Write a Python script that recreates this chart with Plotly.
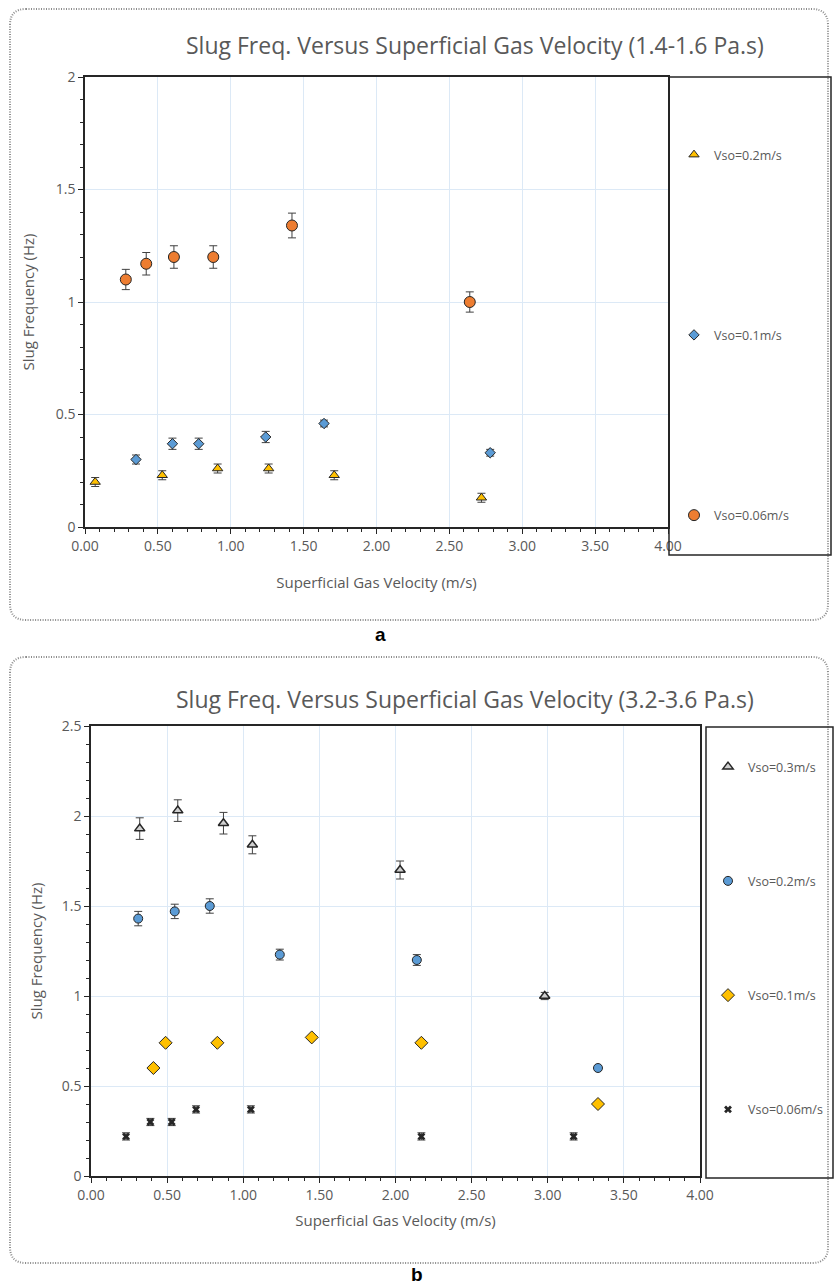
import plotly.graph_objects as go

W, H = 838, 1286

# ---------------- Panel a data (1.4-1.6 Pa.s) ----------------
a_names = ["Vso=0.2m/s", "Vso=0.1m/s", "Vso=0.06m/s"]
a_tri_x = [0.07, 0.53, 0.91, 1.26, 1.71, 2.72]
a_tri_y = [0.20, 0.23, 0.26, 0.26, 0.23, 0.13]
a_tri_err = [0.02, 0.02, 0.02, 0.02, 0.02, 0.02]
a_dia_x = [0.35, 0.60, 0.78, 1.24, 1.64, 2.78]
a_dia_y = [0.30, 0.37, 0.37, 0.40, 0.46, 0.33]
a_dia_err = [0.02, 0.025, 0.025, 0.025, 0.015, 0.015]
a_cir_x = [0.28, 0.42, 0.61, 0.88, 1.42, 2.64]
a_cir_y = [1.10, 1.17, 1.20, 1.20, 1.34, 1.00]
a_cir_err = [0.045, 0.05, 0.05, 0.05, 0.055, 0.045]

# ---------------- Panel b data (3.2-3.6 Pa.s) ----------------
b_names = ["Vso=0.3m/s", "Vso=0.2m/s", "Vso=0.1m/s", "Vso=0.06m/s"]
b_tri_x = [0.32, 0.57, 0.87, 1.06, 2.03, 2.98]
b_tri_y = [1.93, 2.03, 1.96, 1.84, 1.70, 1.00]
b_tri_err = [0.06, 0.06, 0.06, 0.05, 0.05, 0.02]
b_cir_x = [0.31, 0.55, 0.78, 1.24, 2.14, 3.33]
b_cir_y = [1.43, 1.47, 1.50, 1.23, 1.20, 0.60]
b_cir_err = [0.04, 0.04, 0.04, 0.03, 0.03, 0.0]
b_dia_x = [0.41, 0.49, 0.83, 1.45, 2.17, 3.33]
b_dia_y = [0.60, 0.74, 0.74, 0.77, 0.74, 0.40]
b_dia_err = [0.0, 0.0, 0.0, 0.0, 0.0, 0.0]
b_x_x = [0.23, 0.39, 0.53, 0.69, 1.05, 2.17, 3.17]
b_x_y = [0.22, 0.30, 0.30, 0.37, 0.37, 0.22, 0.22]
b_x_err = [0.02, 0.02, 0.02, 0.02, 0.02, 0.02, 0.02]

titles = ["Slug Freq. Versus Superficial Gas Velocity (1.4-1.6 Pa.s)",
          "Slug Freq. Versus Superficial Gas Velocity (3.2-3.6 Pa.s)"]

FONT = "Open Sans"
GRAY = "#595959"
EDGE = "#262626"


def px(x):
    return x / W


def py(y):
    return 1 - y / H


fig = go.Figure()


def add(xs, ys, errs, name, sym, fill, size, xa, ya, leg, lw=1):
    fig.add_trace(go.Scatter(
        x=xs, y=ys, mode="markers", name=name,
        xaxis=xa, yaxis=ya, legend=leg, legendgroup=leg + name,
        marker=dict(symbol=sym, size=size, color=fill,
                    line=dict(color=EDGE, width=lw)),
        error_y=dict(type="data", array=errs, visible=True,
                     color="#404040", thickness=1, width=4),
    ))


add(a_tri_x, a_tri_y, a_tri_err, a_names[0], "triangle-up", "#ffc000", 9, "x", "y", "legend")
add(a_dia_x, a_dia_y, a_dia_err, a_names[1], "diamond", "#5b9bd5", 8, "x", "y", "legend")
add(a_cir_x, a_cir_y, a_cir_err, a_names[2], "circle", "#ed7d31", 11, "x", "y", "legend")

add(b_tri_x, b_tri_y, b_tri_err, b_names[0], "triangle-up", "#d0d0d0", 9, "x2", "y2", "legend2", 1.5)
add(b_cir_x, b_cir_y, b_cir_err, b_names[1], "circle", "#5b9bd5", 9, "x2", "y2", "legend2")
add(b_dia_x, b_dia_y, b_dia_err, b_names[2], "diamond", "#ffc000", 10, "x2", "y2", "legend2")
add(b_x_x, b_x_y, b_x_err, b_names[3], "x", "#262626", 7, "x2", "y2", "legend2", 0)

tickfont = dict(family=FONT, size=14, color=GRAY)
titlefont = dict(family=FONT, size=15, color=GRAY)

common_x = dict(range=[0, 4], dtick=0.5, tickformat=".2f", showgrid=True,
                gridcolor="#dce9f6", gridwidth=1, zeroline=False,
                showline=True, linecolor=EDGE, linewidth=1.5, mirror=True,
                ticks="outside", ticklen=5, tickcolor=EDGE, automargin=False,
                minor=dict(dtick=0.1, ticks="outside", ticklen=3, tickcolor=EDGE, showgrid=False),
                tickfont=tickfont)
common_y = dict(dtick=0.5, showgrid=True, gridcolor="#dce9f6", gridwidth=1,
                zeroline=False, showline=True, linecolor=EDGE, linewidth=1.5,
                mirror=True, ticks="outside", ticklen=5, tickcolor=EDGE, automargin=False,
                minor=dict(dtick=0.1, ticks="outside", ticklen=3, tickcolor=EDGE, showgrid=False),
                tickfont=tickfont)

fig.update_layout(
    width=W, height=H, autosize=False,
    margin=dict(l=0, r=0, t=0, b=0, pad=0, autoexpand=False),
    paper_bgcolor="white", plot_bgcolor="white",
    xaxis=dict(common_x, domain=[px(85), px(668)], anchor="y",
               title=dict(text="Superficial Gas Velocity (m/s)", font=titlefont, standoff=24)),
    yaxis=dict(common_y, domain=[py(527), py(77)], range=[0, 2], anchor="x",
               title=dict(text="Slug Frequency (Hz)", font=titlefont, standoff=18)),
    xaxis2=dict(common_x, domain=[px(91), px(700)], anchor="y2",
                title=dict(text="Superficial Gas Velocity (m/s)", font=titlefont, standoff=13)),
    yaxis2=dict(common_y, domain=[py(1176), py(726)], range=[0, 2.5], anchor="x2",
                title=dict(text="Slug Frequency (Hz)", font=titlefont, standoff=16)),
    legend=dict(x=px(674), y=py(140), xanchor="left", yanchor="top",
                bgcolor="rgba(0,0,0,0)", traceorder="grouped", tracegroupgap=161,
                font=dict(family=FONT, size=12.5, color=GRAY), itemwidth=30),
    legend2=dict(x=px(708), y=py(752), xanchor="left", yanchor="top",
                 bgcolor="rgba(0,0,0,0)", traceorder="grouped", tracegroupgap=95,
                 font=dict(family=FONT, size=12.5, color=GRAY), itemwidth=30),
    showlegend=True,
)


def rounded(x0, y0, x1, y1, r):
    rx, ry = r / W, r / H
    X0, X1 = px(x0), px(x1)
    Y0, Y1 = py(y0), py(y1)  # Y0 top, Y1 bottom
    return (f"M {X0+rx},{Y0} L {X1-rx},{Y0} Q {X1},{Y0} {X1},{Y0-ry} "
            f"L {X1},{Y1+ry} Q {X1},{Y1} {X1-rx},{Y1} "
            f"L {X0+rx},{Y1} Q {X0},{Y1} {X0},{Y1+ry} "
            f"L {X0},{Y0-ry} Q {X0},{Y0} {X0+rx},{Y0} Z")


frame_line = dict(color="#8c8c8c", width=2, dash="1px,1.5px")
shapes = [
    dict(type="path", xref="paper", yref="paper", path=rounded(10, 9, 828, 620, 16),
         line=frame_line, layer="below"),
    dict(type="path", xref="paper", yref="paper", path=rounded(10, 657, 828, 1263, 16),
         line=frame_line, layer="below"),
    dict(type="rect", xref="paper", yref="paper", x0=px(669), x1=px(831), y0=py(555), y1=py(77),
         line=dict(color=EDGE, width=1.5)),
    dict(type="rect", xref="paper", yref="paper", x0=px(706), x1=px(833), y0=py(1178), y1=py(727),
         line=dict(color=EDGE, width=1.5)),
]

annotations = [
    dict(text=titles[0], x=px(475), y=py(45), xref="paper", yref="paper",
         xanchor="center", yanchor="middle",
         showarrow=False, font=dict(family=FONT, size=23, color=GRAY)),
    dict(text=titles[1], x=px(465), y=py(699), xref="paper", yref="paper",
         xanchor="center", yanchor="middle",
         showarrow=False, font=dict(family=FONT, size=23, color=GRAY)),
    dict(text="<b>a</b>", x=px(380), y=py(634), xref="paper", yref="paper",
         xanchor="center", yanchor="middle",
         showarrow=False, font=dict(family="Liberation Sans", size=19, color="black")),
    dict(text="<b>b</b>", x=px(417), y=py(1274), xref="paper", yref="paper",
         xanchor="center", yanchor="middle",
         showarrow=False, font=dict(family="Liberation Sans", size=19, color="black")),
]

fig.update_layout(shapes=shapes, annotations=annotations)

fig.write_html("out.html")
